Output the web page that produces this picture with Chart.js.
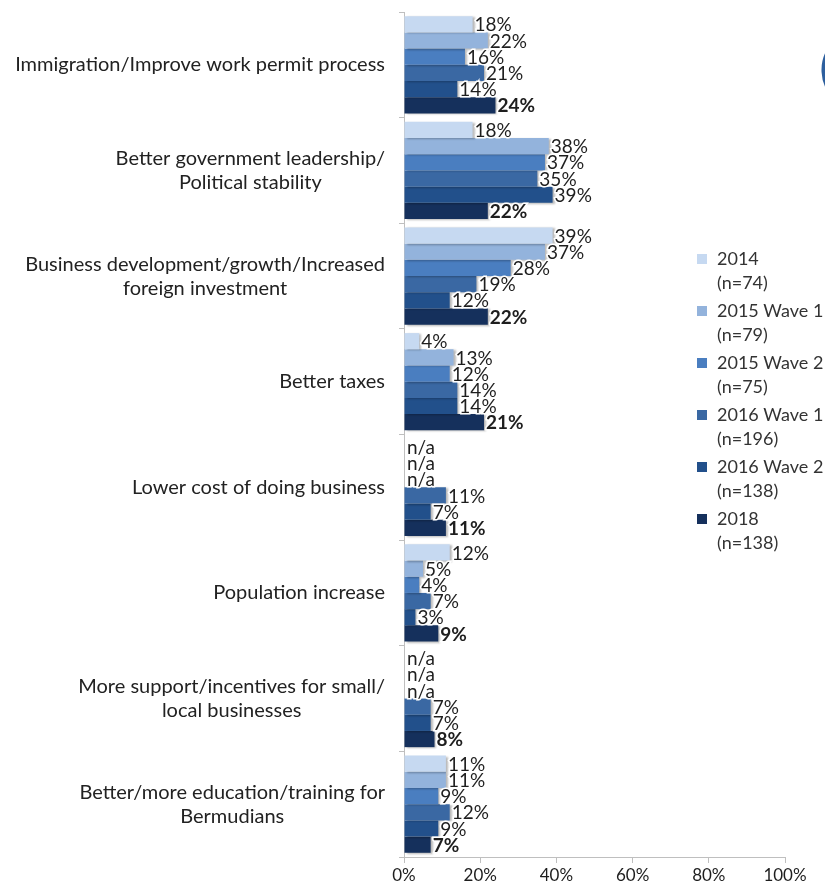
<!DOCTYPE html>
<html>
<head>
<meta charset="utf-8">
<script src="https://cdn.jsdelivr.net/npm/chart.js@4"></script>
<style>
  html, body { margin: 0; padding: 0; background: #fff; }
  #wrap { position: relative; width: 825px; height: 890px; }
</style>
</head>
<body>
<div id="wrap"><canvas id="improveChart" width="825" height="890"></canvas></div>
<script>
const categories = [
  ["Immigration/Improve work permit process"],
  ["Better government leadership/", "Political stability"],
  ["Business development/growth/Increased", "foreign investment"],
  ["Better taxes"],
  ["Lower cost of doing business"],
  ["Population increase"],
  ["More support/incentives for small/", "local businesses"],
  ["Better/more education/training for", "Bermudians"]
];

const waves = ["2014", "2015 Wave 1", "2015 Wave 2", "2016 Wave 1", "2016 Wave 2", "2018"];
const sampleSizes = ["(n=74)", "(n=79)", "(n=75)", "(n=196)", "(n=138)", "(n=138)"];

// null = not asked that wave (shown as n/a)
const y2014   = [18, 18, 39, 4, null, 12, null, 11];
const y2015w1 = [22, 38, 37, 13, null, 5, null, 11];
const y2015w2 = [16, 37, 28, 12, null, 4, null, 9];
const y2016w1 = [21, 35, 19, 14, 11, 7, 7, 12];
const y2016w2 = [14, 39, 12, 14, 7, 3, 7, 9];
const y2018   = [24, 22, 22, 21, 11, 9, 8, 7];

const xTicks = [0, 20, 40, 60, 80, 100];

const colors = ["#c6d9f1", "#93b3dc", "#4a7ec0", "#3a68a3", "#22508b", "#15305c"];
const seriesData = [y2014, y2015w1, y2015w2, y2016w1, y2016w2, y2018];

const FONT = "Lato, 'Open Sans', sans-serif";

// value labels next to each bar, last wave in bold
const valueLabels = {
  id: "valueLabels",
  afterDatasetsDraw(chart) {
    const ctx = chart.ctx;
    const x0 = chart.scales.x.getPixelForValue(0);
    ctx.save();
    ctx.textBaseline = "middle";
    ctx.textAlign = "left";
    chart.data.datasets.forEach((ds, i) => {
      const meta = chart.getDatasetMeta(i);
      ctx.font = (i === 5 ? "bold " : "") + "19px " + FONT;
      meta.data.forEach((bar, j) => {
        const v = ds.data[j];
        const txt = v === null ? "n/a" : v + "%";
        const x = v === null ? x0 + 3 : bar.x + 2;
        ctx.lineWidth = 3;
        ctx.strokeStyle = "#ffffff";
        ctx.strokeText(txt, x, bar.y + 1);
        ctx.fillStyle = "#1e1e1e";
        ctx.fillText(txt, x, bar.y + 1);
      });
    });
    ctx.restore();
  }
};

// soft drop shadow under the bars
const barShadow = {
  id: "barShadow",
  beforeDatasetsDraw(chart) {
    const ctx = chart.ctx;
    ctx.save();
    ctx.shadowColor = "rgba(0,0,0,0.28)";
    ctx.shadowBlur = 2;
    ctx.shadowOffsetX = 2;
    ctx.shadowOffsetY = 1;
  },
  afterDatasetsDraw(chart) {
    chart.ctx.restore();
  }
};

// category names: each block right-aligned, lines centred inside it
const categoryLabels = {
  id: "categoryLabels",
  afterDraw(chart) {
    const ctx = chart.ctx;
    const yScale = chart.scales.y;
    const right = chart.chartArea.left - 19;
    const lh = 24;
    ctx.save();
    ctx.font = "20px " + FONT;
    ctx.fillStyle = "#222222";
    ctx.textAlign = "center";
    ctx.textBaseline = "middle";
    categories.forEach((lines, i) => {
      const w = Math.max(...lines.map(l => ctx.measureText(l).width));
      const cx = right - w / 2;
      const cy = yScale.getPixelForValue(i);
      lines.forEach((l, k) => {
        ctx.fillText(l, cx, cy + (k - (lines.length - 1) / 2) * lh);
      });
    });
    ctx.restore();
  }
};

// two-line legend on the right
const sideLegend = {
  id: "sideLegend",
  afterDraw(chart) {
    const ctx = chart.ctx;
    ctx.save();
    ctx.font = "18px " + FONT;
    ctx.textBaseline = "middle";
    ctx.textAlign = "left";
    waves.forEach((w, i) => {
      const y = 259 + i * 52;
      ctx.fillStyle = colors[i];
      ctx.fillRect(697, y - 5, 10, 10);
      ctx.fillStyle = "#333333";
      ctx.fillText(w, 717, y);
      ctx.fillText(sampleSizes[i], 717, y + 24);
    });
    // edge of the logo in the corner
    ctx.beginPath();
    ctx.strokeStyle = "#2d5f9e";
    ctx.lineWidth = 5;
    ctx.arc(862, 70, 38, Math.PI * 0.75, Math.PI * 1.22);
    ctx.stroke();
    ctx.restore();
  }
};

new Chart(document.getElementById("improveChart"), {
  type: "bar",
  data: {
    labels: categories,
    datasets: seriesData.map((d, i) => ({
      label: waves[i],
      data: d,
      backgroundColor: colors[i],
      borderWidth: 0,
      categoryPercentage: 0.92,
      barPercentage: 1
    }))
  },
  options: {
    indexAxis: "y",
    responsive: false,
    animation: false,
    layout: { padding: { top: 12, right: 40, bottom: 0, left: 0 } },
    plugins: {
      legend: { display: false },
      tooltip: { enabled: false }
    },
    scales: {
      x: {
        min: 0,
        max: 100,
        afterBuildTicks(scale) { scale.ticks = xTicks.map(v => ({ value: v })); },
        afterFit(scale) { scale.height = 33; },
        grid: { drawOnChartArea: false, tickLength: 6, color: "#bfbfbf" },
        border: { color: "#bfbfbf" },
        ticks: {
          padding: 2,
          color: "#1e1e1e",
          font: { family: FONT, size: 17 },
          callback: v => v + "%"
        }
      },
      y: {
        afterFit(scale) { scale.width = 404; },
        grid: { offset: true, drawOnChartArea: false, tickLength: 5, color: "#bfbfbf" },
        border: { color: "#bfbfbf" },
        ticks: { display: false }
      }
    }
  },
  plugins: [barShadow, valueLabels, categoryLabels, sideLegend]
});
</script>
</body>
</html>
